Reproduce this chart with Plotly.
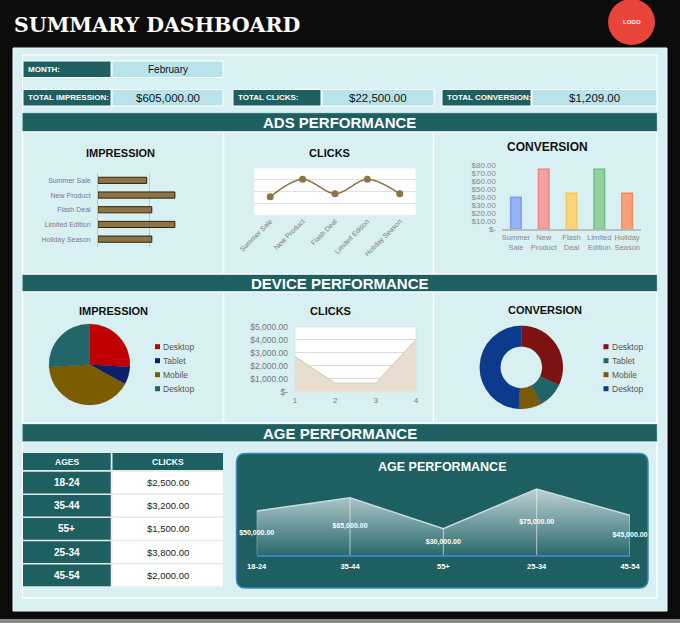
import plotly.graph_objects as go

# ---------------- data ----------------
dashboard_title = "SUMMARY DASHBOARD"
month_label = "MONTH:"
month_value = "February"
total_labels = ["TOTAL IMPRESSION:", "TOTAL CLICKS:", "TOTAL CONVERSION:"]
total_values = ["$605,000.00", "$22,500.00", "$1,209.00"]
section_titles = ["ADS PERFORMANCE", "DEVICE PERFORMANCE", "AGE PERFORMANCE"]
chart_titles = ["IMPRESSION", "CLICKS", "CONVERSION"]

ads_categories = ["Summer Sale", "New Product", "Flash Deal", "Limited Edition", "Holiday Season"]
ads_impression = [95000, 150000, 105000, 150000, 105000]
ads_clicks = [3100, 6100, 3600, 6100, 3600]
ads_conversion = [40, 75, 45, 75, 45]
ads_conv_fill = ["#93b3f6", "#f4a09e", "#fdd477", "#92d2a0", "#fca27b"]
ads_conv_line = ["#7b9ef0", "#ea8581", "#f8c75a", "#6fbe82", "#f6895b"]
ads_conv_ticks = [0, 10, 20, 30, 40, 50, 60, 70, 80]

device_labels = ["Desktop", "Tablet", "Mobile", "Desktop"]
device_impression = [26, 7, 41, 26]
device_impr_colors = ["#c00000", "#0e1f6b", "#7b5d00", "#21676a"]
device_clicks_x = [1, 2, 3, 4]
device_clicks = [2700, 650, 650, 4000]
device_clicks_ticks = [0, 1000, 2000, 3000, 4000, 5000]
device_conversion = [32, 10, 9, 49]
device_conv_colors = ["#7c1212", "#1f6566", "#7a5a08", "#0c3b8e"]

age_groups = ["18-24", "35-44", "55+", "25-34", "45-54"]
age_table_clicks = [2500, 3200, 1500, 3800, 2000]
age_performance = [50000, 65000, 30000, 75000, 45000]
table_headers = ["AGES", "CLICKS"]

# ---------------- helpers ----------------
W, H = 680, 623
def fx(x): return x / W
def fy(y): return 1 - y / H

TEAL = "#1e5f62"
PANEL = "#d9f0f2"
VALBOX = "#b8e3ea"
ARIAL = "Liberation Sans, Arial, sans-serif"

def money(v):
    return "$-" if v == 0 else "${:,.2f}".format(v)

shapes, ann = [], []

def rect(x0, y0, x1, y1, fill=None, line=None, lw=0, layer="below"):
    shapes.append(dict(type="rect", xref="paper", yref="paper",
                       x0=fx(x0), x1=fx(x1), y0=fy(y1), y1=fy(y0),
                       fillcolor=fill or "rgba(0,0,0,0)",
                       line=dict(color=line or "rgba(0,0,0,0)", width=lw), layer=layer))

def vline(x, y0, y1, color="white", lw=1.5):
    shapes.append(dict(type="line", xref="paper", yref="paper", x0=fx(x), x1=fx(x),
                       y0=fy(y0), y1=fy(y1), line=dict(color=color, width=lw), layer="below"))

def text(x, y, s, size, color="#111", bold=False, xanchor="center", family=ARIAL):
    ann.append(dict(xref="paper", yref="paper", x=fx(x), y=fy(y),
                    text=("<b>%s</b>" % s) if bold else s, showarrow=False,
                    xanchor=xanchor, yanchor="middle",
                    font=dict(size=size, color=color, family=family)))

# ---------------- background / frame ----------------
rect(0, 619, 680, 623, fill="#8a8a8a")
rect(13, 48, 667, 611, fill=PANEL, line="#eef9fa", lw=1)
rect(22.5, 55, 657, 598, line="white", lw=1)

# title + logo
text(12, 25, dashboard_title, 20.5, color="white", bold=True, xanchor="left",
     family="DejaVu Serif, serif")
shapes.append(dict(type="circle", xref="paper", yref="paper", x0=fx(608), x1=fx(655),
                   y0=fy(45), y1=fy(-1), fillcolor="#e9443a", line=dict(width=0), layer="above"))
text(631.5, 22, "LOGO", 6, color="white", bold=True)

# month row
rect(23, 61, 111, 77.5, fill=TEAL, line="white", lw=1)
rect(112, 61, 223, 77.5, fill=VALBOX, line="white", lw=1)
text(26, 69.5, month_label, 8, color="white", bold=True, xanchor="left")
text(167.5, 69.5, month_value, 10)

# totals row
tot_boxes = [(23, 111, 223), (233, 321, 434), (442, 531, 657)]
for (a, b, c), lab, val in zip(tot_boxes, total_labels, total_values):
    rect(a, 89.5, b, 106, fill=TEAL, line="white", lw=1)
    rect(b + 1, 89.5, c, 106, fill=VALBOX, line="white", lw=1)
    text(a + 3, 98, lab, 8, color="white", bold=True, xanchor="left")
    text((b + 1 + c) / 2, 98, val, 11.5)

# section bars
sec_y = [(113, 132), (274, 292), (424, 442)]
for (y0, y1), s in zip(sec_y, section_titles):
    rect(22.5, y0, 657, y1, fill=TEAL, line="#8fbfc2", lw=0.5)
    text(339.5, (y0 + y1) / 2 + 0.5, s, 15, color="white", bold=True)

# pane borders
for (y0, y1) in [(132, 274), (292, 423)]:
    rect(22.5, y0, 657, y1, line="white", lw=1.5)
    vline(223.5, y0, y1)
    vline(433.5, y0, y1)
rect(22.5, 442, 657, 598, line="white", lw=1)

# chart titles
text(120, 152.5, chart_titles[0], 11, bold=True)
text(329, 152.5, chart_titles[1], 11, bold=True)
text(547, 147.5, chart_titles[2], 12, bold=True)
text(114, 311, chart_titles[0], 11, bold=True)
text(330, 310.5, chart_titles[1], 11, bold=True)
text(545, 309.5, chart_titles[2], 11, bold=True)

# white plot backgrounds
rect(254, 168, 416, 215.5, fill="white", line="#e0e0e0", lw=0.5)
rect(295, 326.7, 416, 391.7, fill="white", line="#d0d0d0", lw=0.5)

# age chart rounded box
def rounded_path(x0, y0, x1, y1, r):
    def P(x, y): return "%.5f,%.5f" % (fx(x), fy(y))
    pts = ["M" + P(x0 + r, y0), "L" + P(x1 - r, y0),
           "Q" + P(x1, y0) + " " + P(x1, y0 + r), "L" + P(x1, y1 - r),
           "Q" + P(x1, y1) + " " + P(x1 - r, y1), "L" + P(x0 + r, y1),
           "Q" + P(x0, y1) + " " + P(x0, y1 - r), "L" + P(x0, y0 + r),
           "Q" + P(x0, y0) + " " + P(x0 + r, y0)]
    return " ".join(pts) + " Z"

shapes.append(dict(type="path", xref="paper", yref="paper", path=rounded_path(236.5, 453.5, 648, 588, 9),
                   fillcolor=TEAL, line=dict(color="#3d86b5", width=1.5), layer="below"))
text(442, 467, section_titles[2], 12.5, color="white", bold=True)

# manual legends for the device pies
def legend(x_sq, x_txt, labels, colors):
    for i, (lab, col) in enumerate(zip(labels, colors)):
        yy = 346.7 + 14 * i
        rect(x_sq - 2.5, yy - 2.5, x_sq + 2.5, yy + 2.5, fill=col, layer="above")
        text(x_txt, yy, lab, 8.5, color="#555", xanchor="left")

legend(157.5, 161, device_labels, device_impr_colors)
legend(606, 609.5, device_labels, device_conv_colors)

# age table (drawn as cells)
rect(23, 452.5, 223, 587.5, fill="#e6ebea")
rect(23, 453, 110.7, 470, fill=TEAL)
rect(112.5, 453, 223, 470, fill=TEAL)
text(66.8, 461.8, table_headers[0], 8.5, color="white", bold=True)
text(167.8, 461.8, table_headers[1], 8.5, color="white", bold=True)
for i, (grp, val) in enumerate(zip(age_groups, age_table_clicks)):
    y0 = 471.7 + 23.2 * i
    y1 = y0 + 21.7
    rect(23, y0, 110.7, y1, fill=TEAL)
    rect(112.5, y0, 223, y1, fill="white")
    text(66.8, (y0 + y1) / 2, grp, 10, color="white", bold=True)
    text(167.8, (y0 + y1) / 2, money(val), 9.5, color="#222")

# ---------------- traces ----------------
fig = go.Figure()

fig.add_trace(go.Bar(y=ads_categories, x=ads_impression, orientation="h", width=0.42,
                     marker=dict(color="#8d7346", line=dict(color="#2e240e", width=1)),
                     xaxis="x", yaxis="y", showlegend=False))

fig.add_trace(go.Scatter(x=ads_categories, y=ads_clicks, mode="lines+markers",
                         line=dict(color="#8d7346", width=1.5, shape="spline"),
                         marker=dict(color="#8d7346", size=7),
                         xaxis="x2", yaxis="y2", showlegend=False))

fig.add_trace(go.Bar(x=ads_categories, y=ads_conversion, width=0.38,
                     marker=dict(color=ads_conv_fill, line=dict(color=ads_conv_line, width=1.5)),
                     xaxis="x3", yaxis="y3", showlegend=False))

fig.add_trace(go.Pie(labels=list(range(len(device_labels))), text=device_labels, values=device_impression,
                     sort=False, direction="clockwise", rotation=0,
                     marker=dict(colors=device_impr_colors, line=dict(color="rgba(0,0,0,0.25)", width=0.5)),
                     textinfo="none", hovertemplate="%{text}: %{value}<extra></extra>",
                     domain=dict(x=[fx(49), fx(130)], y=[fy(405), fy(324)]), showlegend=False))

fig.add_trace(go.Scatter(x=device_clicks_x, y=device_clicks, mode="lines", fill="tozeroy",
                         fillcolor="#e8ddd1", line=dict(color="#d8c5b2", width=1),
                         xaxis="x4", yaxis="y4", showlegend=False))

fig.add_trace(go.Pie(labels=list(range(len(device_labels))), text=device_labels, values=device_conversion,
                     sort=False, direction="clockwise", rotation=0, hole=0.5,
                     marker=dict(colors=device_conv_colors, line=dict(color="rgba(0,0,0,0.2)", width=0.5)),
                     textinfo="none", hovertemplate="%{text}: %{value}<extra></extra>",
                     domain=dict(x=[fx(479.3), fx(563.3)], y=[fy(409), fy(325.7)]), showlegend=False))

fig.add_trace(go.Scatter(x=age_groups, y=age_performance, mode="lines", fill="tozeroy",
                         fillgradient=dict(type="vertical", start=0, stop=max(age_performance),
                                           colorscale=[[0, "rgb(42,106,109)"], [1, "rgb(190,210,211)"]]),
                         line=dict(color="#c7dbe6", width=1.5),
                         error_y=dict(type="data", symmetric=False, array=[0] * len(age_performance),
                                      arrayminus=age_performance, color="rgba(255,255,255,0.6)",
                                      thickness=1, width=0),
                         xaxis="x5", yaxis="y5", showlegend=False))
fig.add_trace(go.Scatter(x=age_groups, y=[v / 2 for v in age_performance], mode="text",
                         text=[money(v) for v in age_performance], cliponaxis=False,
                         textfont=dict(color="white", size=7, family=ARIAL, weight="bold"),
                         xaxis="x5", yaxis="y5", showlegend=False, hoverinfo="skip"))

# ---------------- layout ----------------
base_ax = dict(zeroline=False, fixedrange=True, showgrid=False, automargin=False)
fig.update_layout(
    template="none",
    width=W, height=H, margin=dict(l=0, r=0, t=0, b=0, pad=0, autoexpand=False),
    paper_bgcolor="#0c0c0c", plot_bgcolor="rgba(0,0,0,0)",
    font=dict(family=ARIAL), showlegend=False,
    shapes=shapes, annotations=ann,
    xaxis=dict(base_ax, domain=[fx(98), fx(201)], range=[0, 201000], showgrid=True, gridcolor="#c4c4c4",
               tickvals=[100000, 200000], showticklabels=False, anchor="y", ticks=""),
    yaxis=dict(base_ax, domain=[fy(246.5), fy(173)], autorange="reversed", anchor="x", ticks="",
               tickfont=dict(size=7, color="#778"), showline=True, linecolor="#c4c4c4",
               ticklabelstandoff=5),
    xaxis2=dict(base_ax, domain=[fx(254), fx(416)], type="category", range=[-0.5, 4.5], anchor="y2",
                tickangle=-45, tickfont=dict(size=7, color="#777"), ticks=""),
    yaxis2=dict(base_ax, domain=[fy(215), fy(168)], range=[0, 8000], dtick=2000, showgrid=True,
                gridcolor="#e2e2e2", showticklabels=False, anchor="x2", ticks=""),
    xaxis3=dict(base_ax, domain=[fx(502), fx(641)], type="category", anchor="y3", ticks="",
                tickvals=ads_categories, ticktext=[c.replace(" ", "<br>") for c in ads_categories],
                tickangle=0, tickfont=dict(size=7.5, color="#888"), showline=True,
                linecolor="#bdbdbd", linewidth=1.5),
    yaxis3=dict(base_ax, domain=[fy(229.3), fy(165.3)], range=[0, 80], anchor="x3", ticks="",
                tickvals=ads_conv_ticks, ticktext=[money(v) for v in ads_conv_ticks],
                tickfont=dict(size=8, color="#888"), ticklabelstandoff=5),
    xaxis4=dict(base_ax, domain=[fx(295), fx(416)], range=[1, 4], anchor="y4", ticks="",
                tickvals=device_clicks_x, tickfont=dict(size=8, color="#777"), ticklabelstandoff=2),
    yaxis4=dict(base_ax, domain=[fy(391.7), fy(326.7)], range=[0, 5000], anchor="x4", ticks="",
                tickvals=device_clicks_ticks, ticktext=[money(v) for v in device_clicks_ticks],
                showgrid=True, gridcolor="#dadada", tickfont=dict(size=8.5, color="#777"),
                ticklabelstandoff=6),
    xaxis5=dict(base_ax, domain=[fx(256.7), fx(630)], type="category", range=[0, 4], anchor="y5",
                ticks="", tickfont=dict(size=7.5, color="white", weight="bold"), showline=True,
                linecolor="#3d80c0", linewidth=1.5, ticklabelstandoff=3),
    yaxis5=dict(base_ax, domain=[fy(555), fy(484.6)], range=[0, 80000], visible=False, anchor="x5"),
)

fig.write_html("out.html")
